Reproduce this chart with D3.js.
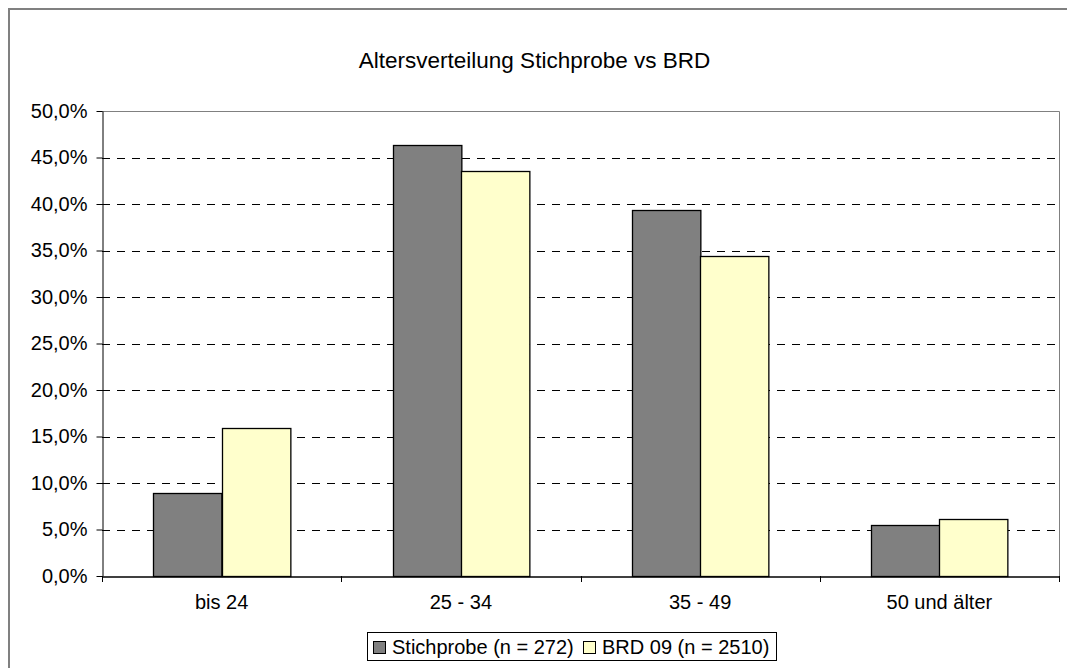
<!DOCTYPE html>
<html>
<head>
<meta charset="utf-8">
<script src="https://cdn.jsdelivr.net/npm/d3@7"></script>
<style>
html,body{margin:0;padding:0;background:#fff;}
svg{display:block;font-family:"Liberation Sans",Arial,sans-serif;}
</style>
</head>
<body>
<svg id="chart" width="1067" height="668"></svg>
<script>
const title = "Altersverteilung Stichprobe vs BRD";
const categories = ["bis 24", "25 - 34", "35 - 49", "50 und älter"];
const seriesNames = ["Stichprobe (n = 272)", "BRD 09 (n = 2510)"];
const stichprobe = [0.089, 0.463, 0.394, 0.055];
const brd = [0.159, 0.435, 0.344, 0.061];
const yTicks = [0, 0.05, 0.10, 0.15, 0.20, 0.25, 0.30, 0.35, 0.40, 0.45, 0.50];
const colors = ["#808080", "#FFFFCC"];

const seriesValues = [stichprobe, brd];
const svg = d3.select("#chart");
const de = d3.formatLocale({decimal: ",", thousands: ".", grouping: [3], currency: ["", " €"]});
const fmt = de.format(".1%");

const L = 102, R = 1059, T = 111, B = 576;

// outer chart border
svg.append("rect").attr("x", 9).attr("y", 9).attr("width", 1100).attr("height", 700)
  .attr("fill", "#fff").attr("stroke", "#808080").attr("stroke-width", 2);

const x = d3.scaleBand().domain(categories).range([L, R]).paddingInner(0).paddingOuter(0);
const xs = d3.scaleBand().domain(d3.range(seriesNames.length)).range([0, x.bandwidth()])
  .paddingInner(0).paddingOuter(0.75);
const y = d3.scaleLinear().domain([0, 0.5]).range([B, T]);

// gridlines
svg.append("g").selectAll("line").data(yTicks.filter(t => t > 0 && t < 0.5)).join("line")
  .attr("x1", L).attr("x2", R)
  .attr("y1", d => Math.round(y(d)) + 0.5).attr("y2", d => Math.round(y(d)) + 0.5)
  .attr("stroke", "#000").attr("stroke-width", 1).attr("stroke-dasharray", "8,7");

// plot area top/right border
svg.append("path").attr("d", `M${L},${T + 0.5}H${R + 0.5}V${B}`)
  .attr("fill", "none").attr("stroke", "#808080").attr("stroke-width", 1);

// bars
const groups = svg.append("g").selectAll("g").data(seriesValues).join("g")
  .attr("fill", (d, i) => colors[i]);
groups.selectAll("rect").data((d, i) => d.map((v, j) => ({v, j, i}))).join("rect")
  .attr("x", d => Math.round(x(categories[d.j]) + xs(d.i)) + 0.5)
  .attr("y", d => Math.round(y(d.v)) + 0.5)
  .attr("width", xs.bandwidth())
  .attr("height", d => B - Math.round(y(d.v)))
  .attr("stroke", "#000").attr("stroke-width", 1.3);

// y axis
const yAxis = d3.axisLeft(y).tickValues(yTicks).tickFormat(fmt).tickSizeInner(6).tickSizeOuter(0).tickPadding(9);
const gy = svg.append("g").attr("transform", `translate(${L + 0.5},0)`).call(yAxis);
gy.select(".domain").attr("stroke", "#000");
gy.selectAll(".tick line").attr("stroke", "#000");
gy.selectAll("text").attr("font-size", 20).attr("fill", "#000")
  .attr("font-family", "'Liberation Sans',Arial,sans-serif");

// x axis
const xAxis = d3.axisBottom(x).tickSize(0).tickPadding(18);
const gx = svg.append("g").attr("transform", `translate(0,${B + 0.5})`).call(xAxis);
gx.select(".domain").attr("stroke", "#000").attr("stroke-width", 1.5);
gx.selectAll("text").attr("font-size", 20).attr("fill", "#000")
  .attr("font-family", "'Liberation Sans',Arial,sans-serif");
// category boundary ticks
svg.append("g").selectAll("line").data(categories.slice(1).concat(["__end"])).join("line")
  .attr("x1", d => d === "__end" ? R + 0.5 : Math.round(x(d)) + 0.5)
  .attr("x2", d => d === "__end" ? R + 0.5 : Math.round(x(d)) + 0.5)
  .attr("y1", B).attr("y2", B + 6).attr("stroke", "#000");
svg.append("line").attr("x1", L + 0.5).attr("x2", L + 0.5).attr("y1", B).attr("y2", B + 6).attr("stroke", "#000");

// title
svg.append("text").attr("x", 534.5).attr("y", 68).attr("text-anchor", "middle")
  .attr("font-size", 22.5).attr("fill", "#000").text(title);

// legend
const lg = svg.append("g");
lg.append("rect").attr("x", 367.5).attr("y", 632.5).attr("width", 409).attr("height", 28)
  .attr("fill", "#fff").attr("stroke", "#000").attr("stroke-width", 1);
const legendX = [373, 583];
seriesNames.forEach((name, i) => {
  lg.append("rect").attr("x", legendX[i] + 0.5).attr("y", 641.5).attr("width", 12).attr("height", 12)
    .attr("fill", colors[i]).attr("stroke", "#000").attr("stroke-width", 1);
  lg.append("text").attr("x", legendX[i] + 19).attr("y", 654).attr("font-size", 20)
    .attr("fill", "#000").text(name);
});
</script>
</body>
</html>
